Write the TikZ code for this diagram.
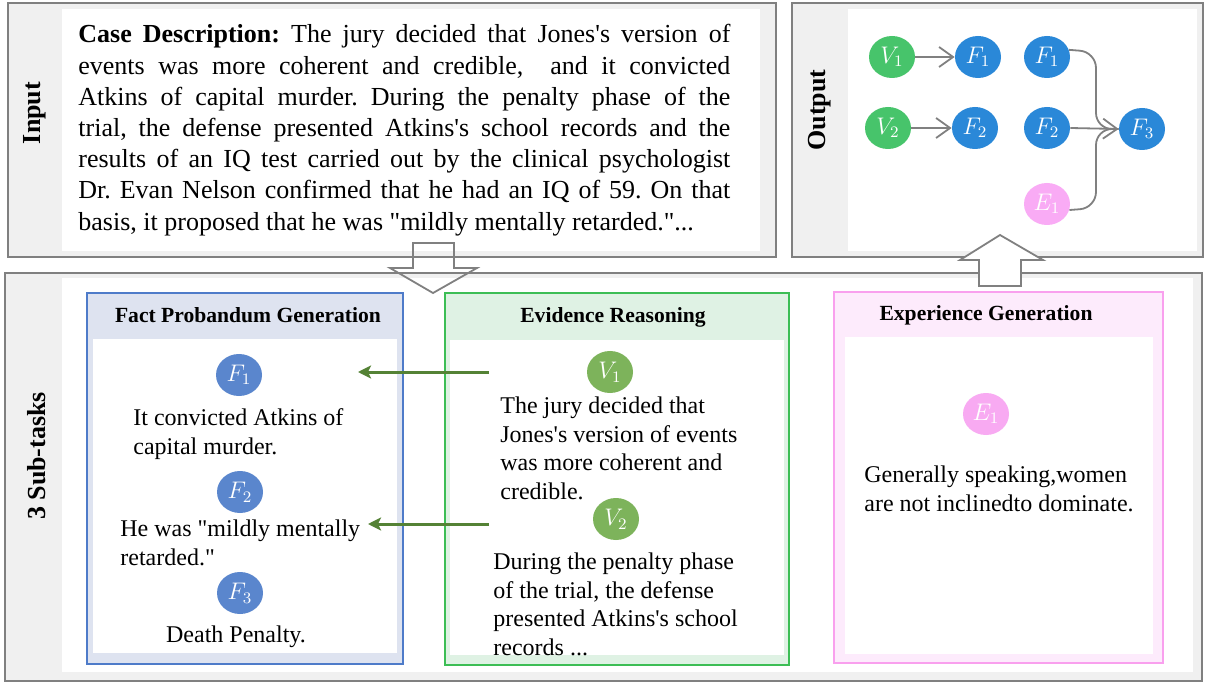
\documentclass[tikz,border=0pt]{standalone}
\usepackage{fontspec}
\setmainfont{Liberation Serif}
\usetikzlibrary{shapes.geometric,arrows.meta}
\definecolor{boxgray}{HTML}{808080}
\definecolor{bggray}{HTML}{F0F0F0}
\definecolor{fblue}{HTML}{4E7BC9}
\definecolor{fbluebg}{HTML}{DEE3F0}
\definecolor{fcirc}{HTML}{5A86CD}
\definecolor{egreen}{HTML}{3CBE55}
\definecolor{egreenbg}{HTML}{DFF2E4}
\definecolor{vcirc}{HTML}{7DB35B}
\definecolor{darrow}{HTML}{548235}
\definecolor{xpink}{HTML}{F9A0EE}
\definecolor{xpinkbg}{HTML}{FDEBFC}
\definecolor{ecirc}{HTML}{F8AAF2}
\definecolor{ogreen}{HTML}{47C46B}
\definecolor{oblue}{HTML}{2A88D8}
\definecolor{opink}{HTML}{F9ABF5}
\newcommand{\sq}{\textquotesingle}
\newcommand{\dq}{\textquotedbl}
\frenchspacing
\begin{document}
\begin{tikzpicture}[x=0.5pt,y=-0.5pt,
  outerbox/.style={draw=boxgray,line width=1pt,fill=bggray},
  whitearea/.style={fill=white},
  sidelabel/.style={rotate=90,font=\bfseries\fontsize{13}{15}\selectfont,inner sep=0pt},
  boxtitle/.style={font=\bfseries\fontsize{10.8}{13}\selectfont,anchor=base,inner sep=0pt},
  body/.style={font=\fontsize{12}{14.2}\selectfont,align=left,anchor=base west,inner sep=0pt},
  circ/.style={ellipse,minimum width=23pt,minimum height=21pt,inner sep=0pt,text=white,font=\fontsize{11.5}{13}\selectfont},
  greenarrow/.style={draw=darrow,line width=1.5pt,-{Stealth[length=6.5pt,width=6.5pt,inset=1.5pt]}},
  grayline/.style={draw=boxgray,line width=0.9pt},
  graytip/.style={-{Straight Barb[length=7pt,width=10pt,line width=0.9pt]}},
  hollow/.style={draw=boxgray,line width=0.9pt,line join=miter}
]
\useasboundingbox (0,0) rectangle (1205,684);

% ---------- Input box ----------
\draw[outerbox] (8,3) rectangle (776,257);
\fill[whitearea] (62,9) rectangle (760,251);
\node[sidelabel] (inlabel) at (35,113) {Input};
\node[anchor=base west,inner sep=0pt,text width=326pt,align=justify,
      font=\fontsize{13}{15.6}\selectfont] (intext) at (78,43)
 {\textbf{Case Description:} The jury decided that Jones\sq s version of\linebreak
  events was more coherent and credible,\ \ and it convicted\linebreak
  Atkins of capital murder. During the penalty phase of the\linebreak
  trial, the defense presented Atkins\sq s school records and the\linebreak
  results of an IQ test carried out by the clinical psychologist\linebreak
  Dr. Evan Nelson confirmed that he had an IQ of 59. On that\linebreak
  basis, it proposed that he was \dq mildly mentally retarded.\dq...\par};

% ---------- Output box ----------
\draw[outerbox] (792,3) rectangle (1203,257);
\fill[whitearea] (848,9) rectangle (1197,251);
\node[sidelabel] (outlabel) at (820,110) {Output};

\node[circ,fill=ogreen] (oV1) at (892,57) {$V_1$};
\node[circ,fill=oblue] (oF1) at (978,57) {$F_1$};
\node[circ,fill=oblue] (oF1b) at (1047,57) {$F_1$};
\node[circ,fill=ogreen] (oV2) at (888,128) {$V_2$};
\node[circ,fill=oblue] (oF2) at (975,128) {$F_2$};
\node[circ,fill=oblue] (oF2b) at (1047,128) {$F_2$};
\node[circ,fill=oblue] (oF3) at (1142,129) {$F_3$};
\node[circ,fill=opink] (oE1) at (1047,204) {$E_1$};

\draw[grayline,graytip] (oV1) -- (oF1);
\draw[grayline,graytip] (oV2) -- (oF2);
\draw[grayline,rounded corners=8pt] (oF1b.18) -- (1096,52) -- (1096,129) -- (oF3.west);
\draw[grayline,rounded corners=8pt] (oE1.-15) -- (1096,208) -- (1096,129) -- (oF3.west);
\draw[grayline,graytip] (oF2b.east) -- (oF3.west);

% ---------- Sub-tasks box ----------
\draw[outerbox] (5,273) rectangle (1202,681);
\fill[whitearea] (62,278) rectangle (1193,672);
\node[sidelabel] (sublabel) at (37,456) {3 Sub-tasks};

% Fact Probandum Generation
\draw[draw=fblue,line width=1pt,fill=fbluebg] (87,293) rectangle (403,664);
\fill[whitearea] (93,339) rectangle (397,653);
\node[boxtitle] (ftitle) at (248,322) {Fact Probandum Generation};
\node[circ,fill=fcirc] (F1) at (239,375) {$F_1$};
\node[body] (f1text) at (133,454) {It convicted Atkins of\\capital murder.};
\node[circ,fill=fcirc] (F2) at (240,492) {$F_2$};
\node[body] (f2text) at (120,565) {He was \dq mildly mentally\\retarded.\dq};
\node[circ,fill=fcirc] (F3) at (240,593) {$F_3$};
\node[body,anchor=base] (f3text) at (236,642) {Death Penalty.};

% Evidence Reasoning
\draw[draw=egreen,line width=1pt,fill=egreenbg] (445,293) rectangle (789,665);
\fill[whitearea] (450,340) rectangle (784,655);
\node[boxtitle] (etitle) at (613,322) {Evidence Reasoning};
\node[circ,fill=vcirc] (V1) at (610,372) {$V_1$};
\node[body] (v1text) at (500,499) {The jury decided that\\Jones\sq s version of events\\was more coherent and\\credible.};
\node[circ,fill=vcirc] (V2) at (616,519) {$V_2$};
\node[body] (v2text) at (493,655) {During the penalty phase\\of the trial, the defense\\presented Atkins\sq s school\\records ...};

% Experience Generation
\draw[draw=xpink,line width=1pt,fill=xpinkbg] (834,292) rectangle (1163,663);
\fill[whitearea] (845,337) rectangle (1153,654);
\node[boxtitle] (xtitle) at (986,321) {Experience Generation};
\node[circ,fill=ecirc] (E1) at (986,414) {$E_1$};
\node[body] (e1text) at (864,511) {Generally speaking,women\\are not inclinedto dominate.};

% green arrows
\coordinate (a1s) at (489,372);
\coordinate (a1e) at (358,372);
\coordinate (a2s) at (489,524);
\coordinate (a2e) at (368,524);
\draw[greenarrow] (a1s) -- (a1e);
\draw[greenarrow] (a2s) -- (a2e);

% ---------- hollow block arrows ----------
\draw[hollow] (413,243) -- (454,243) -- (454,268) -- (477,268) -- (433,293) -- (390,268) -- (413,268) -- cycle;
\draw[hollow,fill=white] (979,286) -- (1021,286) -- (1021,260) -- (1043,260) -- (1000,235) -- (960,260) -- (979,260) -- cycle;
\end{tikzpicture}
\end{document}
